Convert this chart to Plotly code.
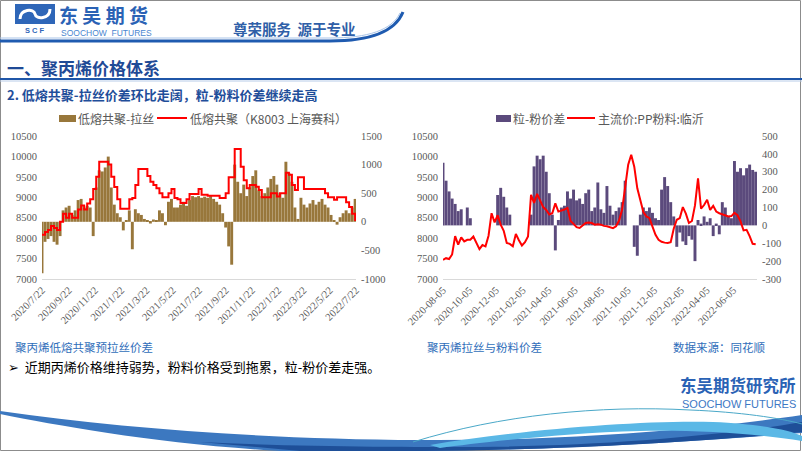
import plotly.graph_objects as go
import pandas as pd

W, H = 802, 451

# ---------------- data ----------------
left_dates = pd.date_range("2020-07-22", periods=105, freq="7D")
left_spread = [
    -900, -350, -300, -250, -350, -400, -250, 200, 250, 280,
    120, 200, 380, 400, 250, 280, 250, -250, 600, 900,
    880, 950, 1140, 600, 300, 150, 80, -150, 30, 200,
    -480, 220, 150, 120, 50, 30, -30, 40, 20, 200,
    150, -60, 350, 400, 250, 250, 300, 350, 280, 380,
    450, 430, 450, 420, 440, 420, 450, 400, 350, 300,
    150, -100, -430, -750, 1000, 700, 500, 650, 450, 600,
    800, 900, 550, 450, 500, 600, 750, 800, 650, 500,
    420, 1050, 850, 700, 250, 50, 420, 300, 250, 320,
    380, 300, 350, 400, 300, 250, 120, 30, -50, 80,
    150, 200, 150, 250, 400]
left_price = [
    8080, 8150, 8200, 8300, 8250, 8200, 8400, 8600, 8500, 8600,
    8500, 8500, 8700, 8800, 8700, 8850, 8950, 9200, 9500, 9870,
    9870, 9870, 9800, 9500, 9250, 8950, 8720, 8720, 8720, 8950,
    8980, 9300, 9690, 9690, 9690, 9520, 9380, 9300, 9220, 9100,
    9000, 9000, 9100, 9200, 8980, 8950, 8860, 8860, 8950, 9080,
    9080, 9080, 9200, 9060, 9060, 9040, 9040, 9040, 9040, 8980,
    8980, 9100, 9490, 9490, 10180, 10180, 9750, 9420, 9220, 9300,
    9300, 9260, 9180, 9000, 9000, 9000, 9100, 9100, 9020, 9100,
    9100, 9600, 9550, 9300, 9180, 9490, 9490, 9200, 9200, 9200,
    9200, 9200, 9200, 9200, 9100, 9000, 9000, 8940, 9000, 9000,
    9000, 8880, 8760, 8600, 8420]

right_dates = pd.date_range("2020-08-05", periods=104, freq="7D")
right_spread = [
    350, 250, 190, 150, 120, 80, 90, 0, 100, 40,
    0, 0, 0, 0, 0, 0, 0, 0, 170, 210,
    160, 100, 60, 0, 0, 0, 0, 0, 0, 60,
    330, 390, 370, 390, 300, 180, 60, -140, 30, 100,
    110, 190, 150, 200, 140, 150, 120, 180, 200, 80,
    100, 240, 90, 70, 220, 110, 60, 80, 100, 130,
    250, 0, 0, -120, -170, 60, 100, 80, 100, 70,
    40, 30, 200, 270, 220, 130, 50, -120, -40, -90,
    -110, -60, -80, -200, 30, 10, 50, 20, 40, -60,
    10, -50, 130, 100, 50, 40, 360, 300, 320, 280,
    320, 340, 310, 300]
right_price = [
    7470, 7510, 7490, 7600, 8050, 7840, 8020, 7920, 7960, 7960,
    8040, 7895, 7730, 7830, 7800, 8060, 8610, 8385, 8560, 8330,
    8180, 7880, 7860, 7800, 8100, 7950, 7820, 7900, 8040, 9060,
    8860, 9085, 8940, 8760, 8690, 8580, 8610, 8850, 8650, 8670,
    8700, 8740, 8420, 8350, 8270, 8250, 8300, 8370, 8385, 8370,
    8330, 8340, 8330, 8300, 8290, 8270, 8245, 8290, 8430, 8700,
    9200, 9800, 10040, 9750, 9220, 8920, 8640, 8530, 8490, 8280,
    8080, 7960, 7910, 7890, 7880, 7900, 8230, 8450, 8490, 8760,
    8600, 8370, 8420, 8800, 9465, 8720, 8810, 8940, 8690, 8790,
    8650, 8610, 8580, 8550, 8530, 8540, 8620, 8560, 8410, 8190,
    8205, 8050, 7860, 7850]

left_xticks = ["2020/7/22", "2020/9/22", "2020/11/22", "2021/1/22", "2021/3/22",
               "2021/5/22", "2021/7/22", "2021/9/22", "2021/11/22", "2022/1/22",
               "2022/3/22", "2022/5/22", "2022/7/22"]
right_xticks = ["2020-08-05", "2020-10-05", "2020-12-05", "2021-02-05", "2021-04-05",
                "2021-06-05", "2021-08-05", "2021-10-05", "2021-12-05", "2022-02-05",
                "2022-04-05", "2022-06-05"]
price_ticks = [7000, 7500, 8000, 8500, 9000, 9500, 10000, 10500]
left_spread_ticks = [-1000, -500, 0, 500, 1000, 1500]
right_spread_ticks = [-300, -200, -100, 0, 100, 200, 300, 400, 500]

left_names = ["低熔共聚-拉丝", "低熔共聚（K8003 上海赛科）"]
right_names = ["粒-粉价差", "主流价:PP粉料:临沂"]

# ---------------- styling ----------------
BROWN = "#98773B"
PURPLE = "#5B4A7C"
RED = "#FF0000"
TXT = "#595959"
SERIF = "Liberation Serif, Times New Roman, serif"
CJK = "Noto Sans CJK SC, sans-serif"
BLUE = "#2A62B5"

def px(x):
    return x / W

def py(y):
    return 1 - y / H

def pt(x, y):
    return f"{px(x):.5f},{py(y):.5f}"

y0, y1 = py(279), py(136)

fig = go.Figure()
fig.add_trace(go.Bar(x=left_dates, y=left_spread, name=left_names[0], xaxis="x", yaxis="y",
                     marker=dict(color=BROWN, line=dict(width=0))))
fig.add_trace(go.Scatter(x=left_dates, y=left_price, name=left_names[1], xaxis="x", yaxis="y2",
                         mode="lines", line=dict(color=RED, width=2, shape="hv")))
fig.add_trace(go.Bar(x=right_dates, y=right_spread, name=right_names[0], xaxis="x2", yaxis="y3",
                     marker=dict(color=PURPLE, line=dict(width=0))))
fig.add_trace(go.Scatter(x=right_dates, y=right_price, name=right_names[1], xaxis="x2", yaxis="y4",
                         mode="lines", line=dict(color=RED, width=2)))

tf = dict(family=SERIF, size=10.5, color=TXT)

xcommon = dict(type="date", showgrid=False, zeroline=False, showline=True, linecolor="#D9D9D9",
               linewidth=1, ticks="", tickangle=-45, tickfont=tf, fixedrange=True, automargin=False)
ycommon = dict(showgrid=False, zeroline=False, showline=False, ticks="", tickfont=tf,
               fixedrange=True, ticklabelstandoff=4, automargin=False)

fig.update_layout(
    width=W, height=H, autosize=False,
    margin=dict(l=0, r=0, t=0, b=0, autoexpand=False),
    paper_bgcolor="white", plot_bgcolor="rgba(0,0,0,0)",
    showlegend=False, bargap=0.03,
    xaxis=dict(domain=[px(42), px(356)], anchor="y",
               range=["2020-07-22", "2022-07-22"],
               tickvals=[pd.to_datetime(t, format="%Y/%m/%d") for t in left_xticks],
               ticktext=left_xticks, **xcommon),
    yaxis=dict(domain=[y0, y1], anchor="x", side="right", range=[-1000, 1500],
               tickvals=left_spread_ticks, ticktext=[str(v) for v in left_spread_ticks], **ycommon),
    yaxis2=dict(overlaying="y", anchor="x", side="left", range=[7000, 10500],
                tickvals=price_ticks, ticktext=[str(v) for v in price_ticks], **ycommon),
    xaxis2=dict(domain=[px(443), px(757)], anchor="y3",
                range=["2020-08-05", "2022-07-30"],
                tickvals=right_xticks, ticktext=right_xticks, **xcommon),
    yaxis3=dict(domain=[y0, y1], anchor="x2", side="right", range=[-300, 500],
                tickvals=right_spread_ticks, ticktext=[str(v) for v in right_spread_ticks], **ycommon),
    yaxis4=dict(overlaying="y3", anchor="x2", side="left", range=[7000, 10500],
                tickvals=price_ticks, ticktext=[str(v) for v in price_ticks], **ycommon),
)

shapes = []
ann = []

def text(x, y, s, size, color, family=CJK, bold=False, anchor="left"):
    if bold:
        s = f"<b>{s}</b>"
    ann.append(dict(x=px(x), y=py(y), xref="paper", yref="paper", text=s, showarrow=False,
                    xanchor=anchor, yanchor="middle", borderpad=0,
                    font=dict(size=size, color=color, family=family)))

def rect(x0_, y0_, x1_, y1_, fill, line=None):
    shapes.append(dict(type="rect", xref="paper", yref="paper",
                       x0=px(x0_), x1=px(x1_), y0=py(y1_), y1=py(y0_),
                       fillcolor=fill, line=dict(width=0) if line is None else line))

def hline(x0_, x1_, y, color, width):
    shapes.append(dict(type="line", xref="paper", yref="paper",
                       x0=px(x0_), x1=px(x1_), y0=py(y), y1=py(y),
                       line=dict(color=color, width=width)))

def path(d, fill=None, color=None, width=0):
    s = dict(type="path", xref="paper", yref="paper", path=d,
             line=dict(width=width, color=color or "rgba(0,0,0,0)"))
    if fill:
        s["fillcolor"] = fill
    shapes.append(s)

# slide frame
rect(0.5, 0.5, 800.5, 450.5, "rgba(0,0,0,0)", line=dict(color="#8C8C8C", width=1))

# header logo
rect(15, 4, 55, 24, "#2E66B8")
path(f"M{pt(20,19)} C{pt(20,9)} {pt(34,8)} {pt(35,14)} C{pt(36,20)} {pt(50,19)} {pt(50,9)}",
     color="white", width=3)
text(35, 30, "<b>S C F</b>", 7.5, "#2E66B8", family="Liberation Sans, sans-serif", anchor="center")
text(58, 14.5, "东 吴 期 货", 19, BLUE, bold=True)
text(60, 33, "SOOCHOW  FUTURES", 8.5, "#4A86D0", family="Liberation Sans, sans-serif")
text(232, 28, "尊荣服务  源于专业", 14.5, "#2F5FA8", bold=True)

# header swoosh
path(f"M{pt(0,41)} L{pt(330,41)} C{pt(370,41)} {pt(395,32)} {pt(403,12)}", color="#1F5BB0", width=3)
path(f"M{pt(0,38)} L{pt(330,38)} C{pt(368,38)} {pt(392,30)} {pt(400,13)}", color="#A9C4E8", width=1)

# rule line
hline(0, 802, 79, "#1F56A8", 2)
hline(0, 802, 81, "#B8CCE8", 1)

text(6, 67, "一、聚丙烯价格体系", 17, "#1F4A96", bold=True)
text(6, 94, "2. 低熔共聚-拉丝价差环比走阔，粒-粉料价差继续走高", 13, "#1F4E9A", bold=True)

# legends (left chart)
rect(59, 115, 76, 122, BROWN)
text(77, 118, left_names[0], 12, TXT)
hline(157, 187, 118, RED, 2)
text(189, 118, left_names[1], 12, TXT)
# legends (right chart)
rect(496, 115, 511, 122, PURPLE)
text(512, 118, right_names[0], 12, TXT)
hline(567, 595, 118, RED, 2)
text(597, 118, right_names[1], 12, TXT)

# captions
CAP = "#2F6EBA"
text(14, 347, "聚丙烯低熔共聚预拉丝价差", 11.5, CAP)
text(426, 347, "聚丙烯拉丝与粉料价差", 11.5, CAP)
text(672, 347, "数据来源：同花顺", 11.5, CAP)
text(7, 366, "➢  近期丙烯价格维持弱势，粉料价格受到拖累，粒-粉价差走强。", 13, "#000000")

# bottom right logo
text(797, 385, "东吴期货研究所", 16.5, BLUE, bold=True, anchor="right")
text(797, 404, "SOOCHOW FUTURES", 11, "#3D78C4", family="Liberation Sans, sans-serif", anchor="right")

# bottom swoosh
path(f"M{pt(0,411)} C{pt(120,428)} {pt(260,439)} {pt(420,440)} C{pt(560,441)} {pt(700,430)} {pt(802,415)} "
     f"L{pt(802,433)} C{pt(700,441)} {pt(560,450)} {pt(420,451)} L{pt(280,451)} "
     f"C{pt(160,444)} {pt(60,426)} {pt(0,414)} Z", fill="#3C78C0")
path(f"M{pt(200,442)} C{pt(300,447)} {pt(400,447)} {pt(480,447)} C{pt(600,446)} {pt(720,436)} {pt(802,422)} "
     f"L{pt(802,432)} C{pt(700,442)} {pt(560,450)} {pt(420,451)} L{pt(300,451)} Z", fill="#1E4F98")
path(f"M{pt(430,445)} C{pt(520,430)} {pt(640,420)} {pt(713,422)} C{pt(760,424)} {pt(790,430)} {pt(802,436)} "
     f"L{pt(802,441)} C{pt(760,434)} {pt(700,430)} {pt(640,431)} C{pt(560,433)} {pt(480,443)} {pt(440,448)} Z",
     fill="#5BB8E6")
path(f"M{pt(413,442)} C{pt(500,415)} {pt(600,405)} {pt(690,410)} C{pt(740,412)} {pt(780,418)} {pt(802,424)}",
     color="#4AA8C8", width=1)

fig.update_layout(shapes=shapes, annotations=ann)
fig.write_html("out.html")
